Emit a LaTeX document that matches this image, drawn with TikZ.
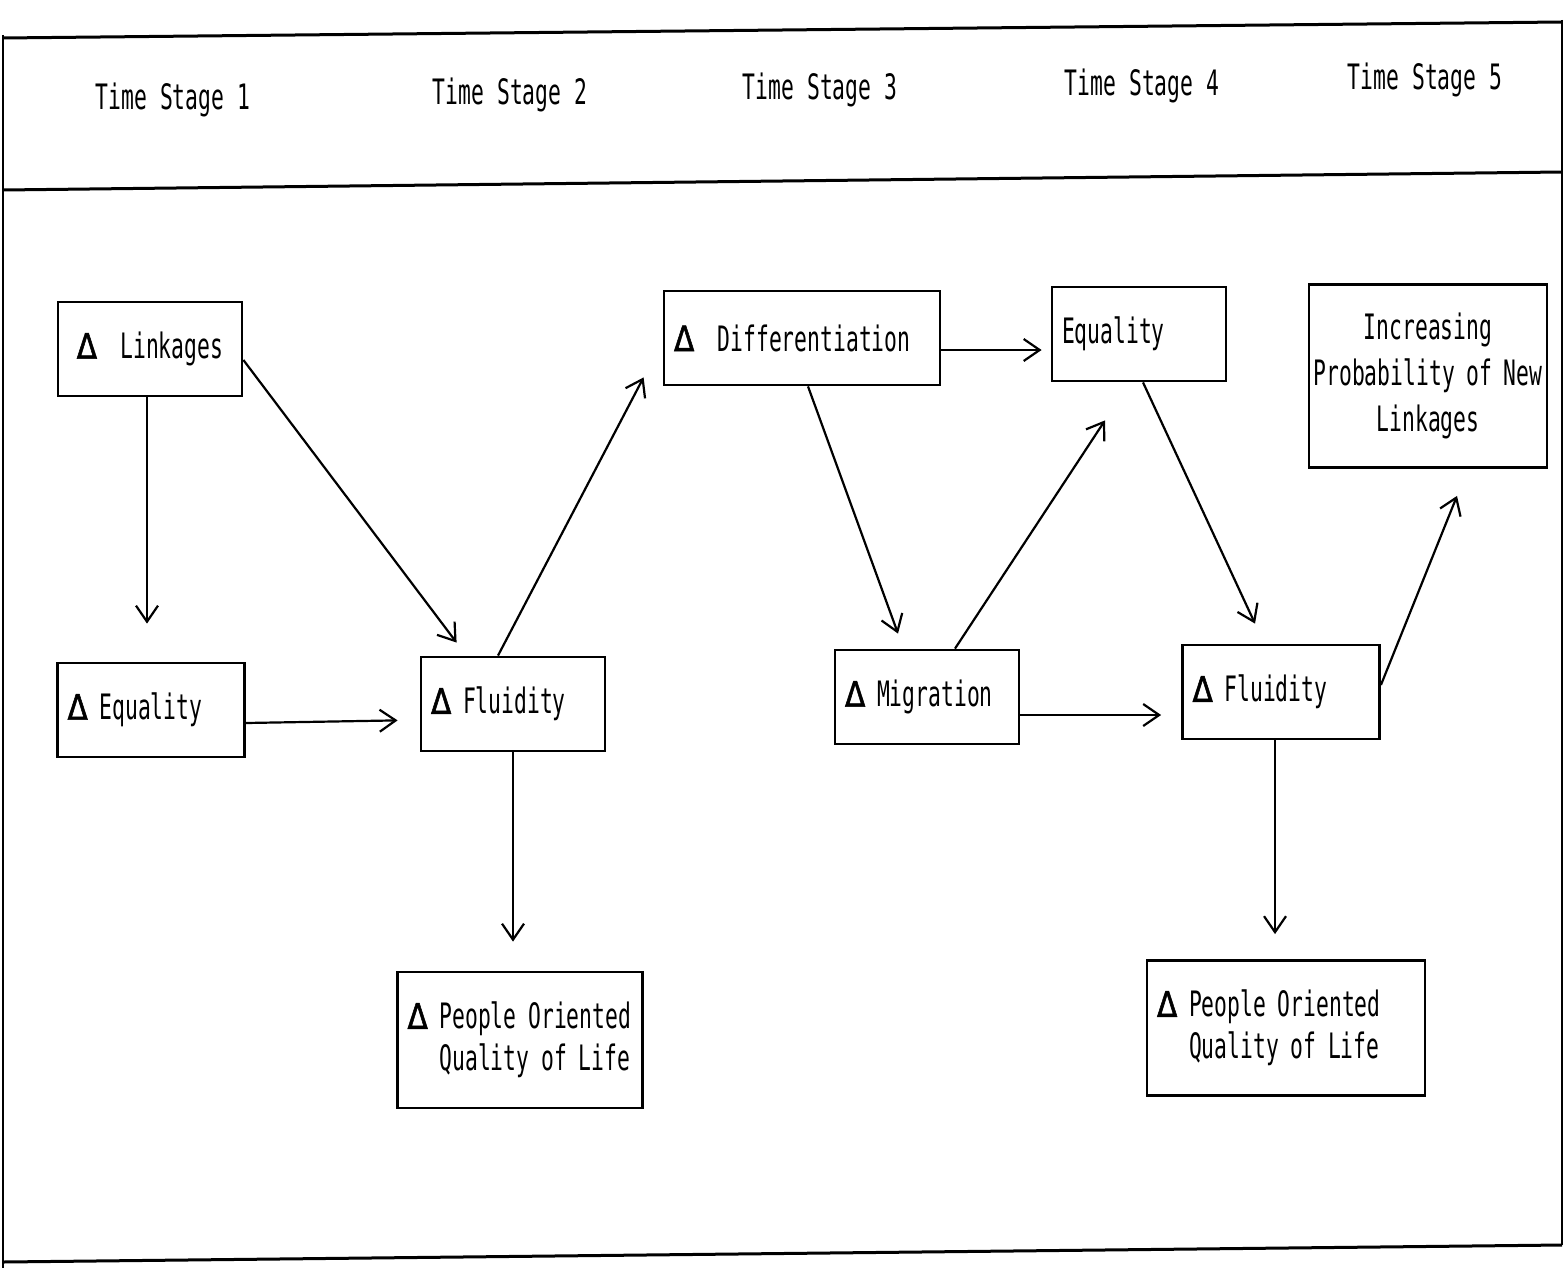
\documentclass[tikz,border=0pt]{standalone}
\usepackage{fontspec}
\usepackage{tikz}
\usetikzlibrary{arrows.meta,calc}
\newfontfamily\typer[FakeStretch=0.61]{DejaVu Sans Mono}
\newfontfamily\dltfont[FakeStretch=0.85,FakeBold=1.5]{DejaVu Sans}
\newcommand\dlt{{\dltfont Δ}}

\begin{document}
\begin{tikzpicture}[x=0.5pt,y=-0.5pt,
  stagelabel/.style={font=\typer\fontsize{17.5}{21}\selectfont},
  stagebox/.style={draw,line width=1.4pt,inner xsep=5pt,align=left,text width=#1,minimum height=47pt,
    font=\typer\fontsize{17.5}{21}\selectfont},
  flow/.style={line width=1.1pt,-{Straight Barb[length=8pt,width=11pt,line width=1.1pt]}}]
  \useasboundingbox (0,0) rectangle (1567,1268);
  % frame and header band
  \draw[line width=1.5pt] (3,38) -- (1562,22);
  \draw[line width=1.5pt] (3,190) -- (1562,172);
  \draw[line width=1.5pt] (3,1262) -- (1562,1245);
  \draw[line width=1.2pt] (3,35) -- (3,1268);
  \draw[line width=1.2pt] (1562,20) -- (1562,1245);
  \foreach \x/\y [count=\i] in {173/100,510/95,820/90,1142/86,1425/80}
    \node[stagelabel] (stage\i) at (\x,\y) {Time Stage \i};
  % stage 1 and 2 boxes
  \node[stagebox=82pt,align=center] (link) at (150,349) {\dlt~~Linkages};
  \node[stagebox=83.5pt] (equal1) at (151,710) {\dlt\ Equality};
  \node[stagebox=82pt] (fluid1) at (513,704) {\dlt\ Fluidity};
  \node[stagebox=112.5pt,minimum height=68pt] (people1) at (520,1040)
    {\dlt\ People Oriented\\\phantom{\dlt\ }Quality of Life};
  % stage 3 to 5 boxes
  \node[stagebox=128pt] (diff) at (802,338) {\dlt~~Differentiation};
  \node[stagebox=77pt] (equal2) at (1139,334) {Equality};
  \node[stagebox=117pt,inner xsep=1pt,align=center,minimum height=91.5pt,
    font=\typer\fontsize{17.5}{23}\selectfont] (incr) at (1428,376) {Increasing\\Probability of New\\Linkages};
  \node[stagebox=82pt] (migr) at (927,697) {\dlt\ Migration};
  \node[stagebox=88.5pt] (fluid2) at (1281,692) {\dlt\ Fluidity};
  \node[stagebox=129pt,minimum height=67.5pt] (people2) at (1286,1028)
    {\dlt\ People Oriented\\\phantom{\dlt\ }Quality of Life};
  % arrows
  \draw[flow,shorten >=19pt] ($(link.south)+(-3,0)$) -- ($(equal1.north)+(-4,0)$);
  \draw[flow] ($(link.east)+(0,11)$) -- ($(fluid1.north west)+(37,-13)$);
  \draw[flow,shorten >=11pt] ($(equal1.east)+(0,13)$) -- ($(fluid1.west)+(0,16)$);
  \draw[flow] ($(fluid1.north)+(-15,0)$) -- ($(diff.south west)+(-19,-9)$);
  \draw[flow,shorten >=14.5pt] (fluid1.south) -- (fluid1.south |- people1.north);
  \draw[flow,shorten >=4.5pt] ($(diff.east)+(0,12)$) -- ($(equal2.west)+(0,16)$);
  \draw[flow] ($(diff.south)+(6,0)$) -- ($(migr.north)+(-29,-15)$);
  \draw[flow] ($(migr.north)+(28,0)$) -- ($(equal2.south)+(-34,38)$);
  \draw[flow,shorten >=10pt] ($(migr.east)+(0,18)$) -- ($(fluid2.west)+(0,23)$);
  \draw[flow] ($(equal2.south)+(4,0)$) -- ($(fluid2.north)+(-26,-20)$);
  \draw[flow] ($(fluid2.east)+(0,-7)$) -- ($(incr.south)+(29,27)$);
  \draw[flow] ($(fluid2.south)+(-6,0)$) -- ($(people2.north)+(-11,-25)$);
\end{tikzpicture}
\end{document}
